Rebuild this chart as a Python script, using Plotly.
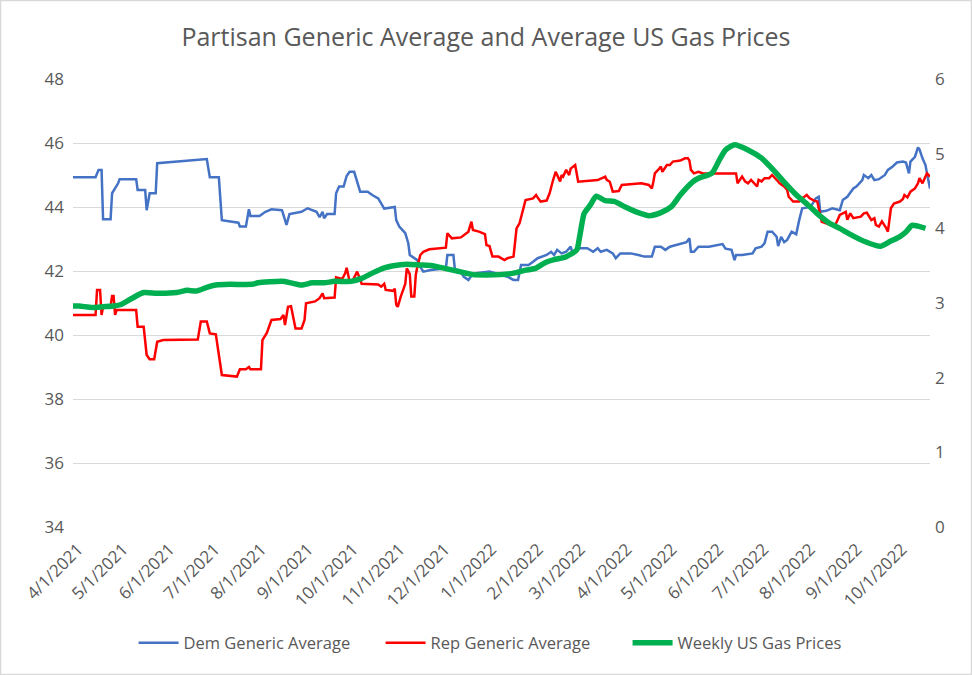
import pandas as pd
import plotly.graph_objects as go

TITLE = "Partisan Generic Average and Average US Gas Prices"
START = "2021-04-01"
X_END_DAY = 570

TICK_LABELS = ["4/1/2021", "5/1/2021", "6/1/2021", "7/1/2021", "8/1/2021", "9/1/2021",
               "10/1/2021", "11/1/2021", "12/1/2021", "1/1/2022", "2/1/2022", "3/1/2022",
               "4/1/2022", "5/1/2022", "6/1/2022", "7/1/2022", "8/1/2022", "9/1/2022",
               "10/1/2022"]

# Dem Generic Average: day offset from START, value
DEM_DAYS = [0, 15, 17, 19, 20, 25, 26, 30, 31, 42, 43, 48, 49, 51, 55, 56, 89, 91, 97, 99,
            110, 111, 115, 117, 118, 124, 128, 132, 139, 142, 144, 152, 156, 162, 164, 166,
            167, 169, 174, 175, 177, 180, 182, 184, 187, 189, 191, 196, 199, 203, 205, 207,
            214, 215, 217, 221, 223, 224, 229, 231, 233, 238, 248, 249, 253, 254, 257, 260,
            263, 265, 268, 277, 285, 289, 293, 296, 298, 303, 306, 309, 315, 318, 320, 322,
            325, 328, 331, 332, 337, 342, 346, 349, 351, 355, 359, 361, 364, 371, 376, 380,
            385, 387, 391, 394, 397, 400, 404, 408, 410, 411, 413, 416, 423, 432, 434, 438,
            440, 441, 445, 452, 454, 458, 460, 462, 465, 468, 469, 471, 473, 475, 478, 481,
            483, 485, 488, 491, 494, 496, 497, 501, 505, 510, 512, 515, 519, 521, 523, 525,
            526, 529, 531, 533, 536, 540, 542, 545, 548, 552, 554, 556, 557, 560, 562, 563,
            565, 567, 568, 570]
DEM_VALUES = [44.93, 44.93, 45.16, 45.16, 43.62, 43.62, 44.43, 44.74, 44.87, 44.87, 44.53,
              44.53, 43.90, 44.43, 44.43, 45.37, 45.50, 44.93, 44.93, 43.59, 43.51, 43.39,
              43.39, 43.93, 43.72, 43.72, 43.85, 43.93, 43.90, 43.44, 43.78, 43.85, 43.96,
              43.85, 43.68, 43.85, 43.65, 43.78, 43.78, 44.43, 44.64, 44.64, 44.97, 45.10,
              45.10, 44.79, 44.48, 44.48, 44.375, 44.27, 44.11, 43.95, 44.00, 43.59, 43.39,
              43.18, 42.87, 42.50, 42.34, 42.13, 41.98, 42.03, 42.08, 42.50, 42.50, 42.05,
              42.03, 41.82, 41.72, 41.85, 41.93, 41.98, 41.875, 41.82, 41.72, 41.72, 42.19,
              42.19, 42.29, 42.40, 42.50, 42.60, 42.50, 42.66, 42.55, 42.60, 42.76, 42.60,
              42.71, 42.71, 42.60, 42.71, 42.60, 42.66, 42.55, 42.40, 42.55, 42.55, 42.50,
              42.45, 42.45, 42.76, 42.76, 42.66, 42.76, 42.80, 42.87, 42.90, 43.02, 42.60,
              42.60, 42.76, 42.76, 42.84, 42.70, 42.66, 42.34, 42.50, 42.50, 42.55, 42.71,
              42.76, 42.87, 43.23, 43.23, 43.07, 42.78, 43.07, 42.90, 42.97, 43.23, 43.15,
              43.59, 43.96, 43.98, 44.03, 44.27, 44.32, 43.85, 43.88, 43.96, 43.90, 44.22,
              44.32, 44.58, 44.64, 44.74, 44.84, 45.00, 44.90, 45.00, 44.84, 44.87, 45.00,
              45.16, 45.26, 45.39, 45.42, 45.39, 45.05, 45.42, 45.57, 45.86, 45.80, 45.52,
              45.31, 45.05, 44.58]

# Rep Generic Average
REP_DAYS = [0, 15, 16, 18, 19, 20, 25, 26, 27, 28, 29, 42, 43, 47, 49, 51, 54, 56, 60, 83,
            85, 89, 91, 95, 99, 109, 111, 115, 117, 118, 125, 126, 129, 132, 138, 140, 141,
            143, 145, 148, 152, 154, 155, 161, 164, 166, 167, 174, 175, 179, 181, 182, 184,
            186, 189, 190, 192, 203, 205, 207, 208, 213, 214, 215, 216, 218, 221, 222, 224,
            225, 227, 228, 229, 231, 233, 237, 248, 249, 252, 258, 263, 265, 266, 270, 274,
            275, 277, 279, 283, 287, 289, 293, 295, 297, 299, 301, 306, 308, 309, 311, 315,
            317, 319, 321, 324, 325, 326, 328, 330, 331, 334, 336, 349, 354, 355, 357, 359,
            363, 365, 378, 383, 385, 386, 387, 389, 391, 392, 395, 397, 399, 404, 407, 409,
            410, 411, 413, 416, 419, 441, 442, 445, 447, 449, 451, 455, 456, 458, 460, 463,
            465, 468, 470, 473, 475, 476, 479, 483, 485, 488, 490, 493, 495, 497, 498, 504,
            507, 508, 510, 514, 515, 517, 519, 524, 526, 528, 531, 533, 534, 536, 538, 541,
            542, 543, 544, 546, 550, 552, 553, 555, 557, 560, 562, 563, 565, 567, 568, 570]
REP_VALUES = [40.625, 40.625, 41.41, 41.41, 40.625, 40.88, 40.90, 41.22, 41.22, 40.625,
              40.78, 40.78, 40.26, 40.26, 39.375, 39.24, 39.24, 39.79, 39.84, 39.86, 40.42,
              40.42, 40.05, 40.02, 38.75, 38.70, 38.93, 38.93, 39.00, 38.93, 38.93, 39.84,
              40.07, 40.47, 40.50, 40.625, 40.31, 40.88, 40.90, 40.20, 40.20, 40.47, 40.99,
              41.05, 41.15, 41.30, 41.15, 41.17, 41.80, 41.75, 41.93, 42.10, 41.67, 41.70,
              41.98, 41.85, 41.60, 41.58, 41.51, 41.60, 41.41, 41.38, 41.45, 40.94, 40.88,
              41.20, 41.60, 42.08, 41.90, 41.20, 41.20, 41.875, 42.13, 42.50, 42.60, 42.68,
              42.73, 43.18, 43.02, 43.05, 43.23, 43.54, 43.28, 43.23, 43.15, 42.81, 42.78,
              42.45, 42.45, 42.34, 42.40, 42.45, 43.33, 43.49, 43.90, 44.22, 44.27, 44.375,
              44.30, 44.17, 44.20, 44.43, 44.79, 45.10, 44.80, 45.00, 44.95, 45.16, 45.00,
              45.20, 45.31, 44.79, 44.84, 44.95, 44.85, 44.79, 44.48, 44.50, 44.69, 44.74,
              44.69, 44.58, 44.79, 45.05, 45.15, 45.26, 45.10, 45.31, 45.31, 45.42, 45.45,
              45.52, 45.52, 45.45, 45.16, 45.05, 45.10, 45.05, 45.05, 44.74, 44.95, 44.80,
              44.74, 44.85, 44.64, 44.85, 44.80, 44.90, 44.90, 45.00, 44.85, 44.74, 44.64,
              44.53, 44.32, 44.17, 44.17, 44.27, 44.375, 44.27, 44.20, 44.17, 43.75, 43.54,
              43.44, 43.44, 43.54, 43.75, 43.85, 43.60, 43.80, 43.65, 43.70, 43.80, 43.82,
              43.59, 43.65, 43.44, 43.39, 43.55, 43.33, 43.23, 43.59, 43.96, 44.11, 44.17,
              44.25, 44.375, 44.30, 44.48, 44.58, 44.74, 44.90, 44.74, 44.95, 45.05, 44.95]

# Weekly US Gas Prices (right axis, $/gal)
GAS_DAYS = [0, 4, 13, 20, 27, 32, 39, 47, 56, 69, 76, 82, 89, 95, 104, 119, 123, 139, 145,
            152, 159, 167, 174, 185, 192, 199, 207, 213, 222, 231, 239, 248, 257, 266, 275,
            284, 293, 301, 307, 314, 320, 328, 335, 337, 340, 344, 348, 354, 360, 367, 376,
            383, 391, 398, 404, 412, 416, 425, 430, 434, 440, 449, 458, 465, 473, 481, 489,
            496, 503, 510, 516, 527, 537, 543, 550, 554, 558, 562, 567]
GAS_VALUES = [2.96, 2.96, 2.94, 2.95, 2.96, 2.98, 3.06, 3.14, 3.13, 3.14, 3.17, 3.16, 3.21,
              3.24, 3.25, 3.25, 3.27, 3.29, 3.27, 3.24, 3.27, 3.27, 3.29, 3.29, 3.33, 3.40,
              3.47, 3.50, 3.52, 3.51, 3.50, 3.46, 3.42, 3.38, 3.375, 3.38, 3.40, 3.44, 3.46,
              3.54, 3.58, 3.62, 3.71, 3.89, 4.20, 4.31, 4.43, 4.37, 4.36, 4.29, 4.21, 4.17,
              4.21, 4.29, 4.45, 4.62, 4.67, 4.74, 4.92, 5.05, 5.12, 5.05, 4.94, 4.80, 4.62,
              4.45, 4.31, 4.18, 4.07, 4.00, 3.93, 3.82, 3.76, 3.82, 3.89, 3.95, 4.04, 4.03,
              4.00]

start = pd.Timestamp(START)


def to_dates(days):
    return [start + pd.Timedelta(days=d) for d in days]


tick_vals = [pd.to_datetime(t, format="%m/%d/%Y") for t in TICK_LABELS]

TXT = "#595959"
FONT = "Open Sans"

fig = go.Figure()
fig.add_trace(go.Scatter(x=to_dates(DEM_DAYS), y=DEM_VALUES, mode="lines",
                         name="Dem Generic Average",
                         line=dict(color="#4472C4", width=2.5)))
fig.add_trace(go.Scatter(x=to_dates(REP_DAYS), y=REP_VALUES, mode="lines",
                         name="Rep Generic Average",
                         line=dict(color="#FF0000", width=2.5)))
fig.add_trace(go.Scatter(x=to_dates(GAS_DAYS), y=GAS_VALUES, mode="lines",
                         name="Weekly US Gas Prices", yaxis="y2",
                         line=dict(color="#00B050", width=5.5, shape="spline", smoothing=0.6)))

fig.update_layout(
    width=972, height=675,
    margin=dict(l=73, r=42, t=79, b=148),
    paper_bgcolor="white", plot_bgcolor="white",
    font=dict(family=FONT, color=TXT, size=16),
    title=dict(text=TITLE, x=0.5, xanchor="center", y=1 - 37 / 675, yanchor="middle",
               font=dict(family=FONT, size=25, color=TXT)),
    xaxis=dict(type="date", range=[start, start + pd.Timedelta(days=X_END_DAY)],
               tickmode="array", tickvals=tick_vals, ticktext=TICK_LABELS,
               tickangle=-45, showgrid=False, zeroline=False, showline=False,
               ticks="", ticklabelstandoff=8, ticklabelshift=5,
               tickfont=dict(size=17, color=TXT)),
    yaxis=dict(range=[34, 48], dtick=2, tick0=34, showgrid=True, gridcolor="#D9D9D9",
               gridwidth=1.3, zeroline=False, showline=False, ticks="",
               ticklabelstandoff=8, tickfont=dict(size=17, color=TXT)),
    yaxis2=dict(range=[0, 6], dtick=1, tick0=0, overlaying="y", side="right",
                showgrid=False, zeroline=False, showline=False, ticks="",
                ticklabelstandoff=4, tickfont=dict(size=17, color=TXT)),
    legend=dict(orientation="h", x=0.503, xanchor="center", y=-0.259, yanchor="middle",
                font=dict(size=16.5, color=TXT), entrywidth=192, entrywidthmode="pixels",
                itemwidth=40),
    shapes=[dict(type="rect", xref="paper", yref="paper",
                 x0=-72.5 / 857, x1=1 + 41.5 / 857, y0=-147.5 / 448, y1=1 + 78.5 / 448,
                 line=dict(color="#D9D9D9", width=1.5), fillcolor="rgba(0,0,0,0)",
                 layer="below")],
)

fig.write_html("out.html", config={"displayModeBar": False},
               post_script="document.body.style.margin='0px';")
